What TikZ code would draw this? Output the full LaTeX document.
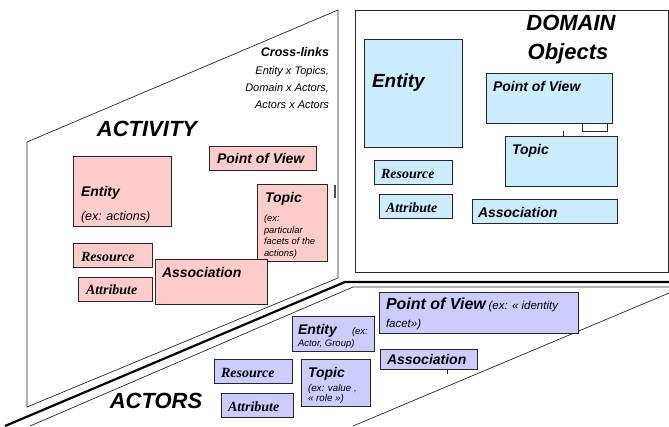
\documentclass[tikz,border=0pt]{standalone}
\usepackage{fontspec}
\setmainfont{Liberation Sans}
\newfontfamily\tmsfont{Liberation Serif}
\definecolor{pinkf}{HTML}{FFCCCC}
\definecolor{bluef}{HTML}{CCECFF}
\definecolor{lavf}{HTML}{CCCCFF}
\newcommand\fsz[1]{\fontsize{#1}{#1}\selectfont}
\tikzset{
  box/.style={draw=black!85, line width=0.7pt, inner sep=0pt, outer sep=0pt, anchor=north west},
  pbox/.style={box, fill=pinkf},
  bbox/.style={box, fill=bluef},
  lbox/.style={box, fill=lavf},
  lbl/.style={anchor=base west, inner sep=0pt, outer sep=0pt},
  rlbl/.style={anchor=base east, inner sep=0pt, outer sep=0pt},
  clbl/.style={anchor=base, inner sep=0pt, outer sep=0pt},
  bt/.style={font=\fsz{14}\bfseries\itshape},
  tt/.style={font=\fsz{14}\tmsfont\bfseries\itshape},
  plane/.style={draw=black!85, line width=0.7pt},
}
\begin{document}
\begin{tikzpicture}[x=1pt,y=-1pt]
\useasboundingbox (0,0) rectangle (669,426);
% planes
\draw[plane] (27,142) -- (338,10) -- (338,278) -- (27,407) -- cycle;
\draw[plane] (355,10) rectangle (668.6,272);
\draw[black, line width=2.2pt] (5,426) -- (345,282) -- (669,282);
\draw[plane] (30,426) -- (353,287) -- (669,287);
\draw[plane] (669,293) -- (353,426);
\draw[black!70, line width=1.2pt] (335,185) -- (335,198);

% ACTIVITY
\node[clbl, font=\fsz{22}\bfseries\itshape] (tact) at (147,136) {ACTIVITY};
\node[rlbl, font=\fsz{12.5}\bfseries\itshape] (tcl) at (329,56.5) {Cross-links};
\node[rlbl, font=\fsz{11}\itshape] (tcl1) at (329,74) {Entity x Topics,};
\node[rlbl, font=\fsz{11}\itshape] (tcl2) at (329,91) {Domain x Actors,};
\node[rlbl, font=\fsz{11}\itshape] (tcl3) at (329,108) {Actors x Actors};

\node[pbox, minimum width=98pt, minimum height=70pt] (aent) at (73,156) {};
\node[lbl, bt] (aentt) at (81,196) {Entity};
\node[lbl, font=\fsz{12.5}\itshape] (aentx) at (81,220) {(ex: actions)};
\node[pbox, minimum width=107pt, minimum height=24pt] (apov) at (209,146) {};
\node[lbl, bt] (apovt) at (217,163) {Point of View};
\node[pbox, minimum width=70pt, minimum height=77pt] (atop) at (257,184) {};
\node[lbl, bt] (atopt) at (265,202) {Topic};
\node[lbl, font=\fsz{9.4}\itshape] (atop1) at (264,221.5) {(ex:};
\node[lbl, font=\fsz{9.4}\itshape] (atop2) at (264,233) {particular};
\node[lbl, font=\fsz{9.4}\itshape] (atop3) at (264,244.5) {facets of the};
\node[lbl, font=\fsz{9.4}\itshape] (atop4) at (264,256) {actions)};
\node[pbox, minimum width=79pt, minimum height=24pt] (ares) at (73,243) {};
\node[lbl, tt] (arest) at (81,261) {Resource};
\node[pbox, minimum width=74pt, minimum height=24pt] (aatt) at (78,277) {};
\node[lbl, tt] (aattt) at (86,294) {Attribute};
\node[pbox, minimum width=112pt, minimum height=45pt] (aass) at (155,259) {};
\node[lbl, bt] (aasst) at (162,277) {Association};

% DOMAIN
\node[clbl, font=\fsz{22}\bfseries\itshape] (tdom) at (571,30) {DOMAIN};
\node[clbl, font=\fsz{22}\bfseries\itshape] (tobj) at (568,59) {Objects};
\node[bbox, minimum width=98pt, minimum height=108pt] (dent) at (364,39) {};
\node[lbl, font=\fsz{19}\bfseries\itshape] (dentt) at (372,87) {Entity};
\node[bbox, minimum width=126pt, minimum height=50pt] (dpov) at (486,73) {};
\node[lbl, bt] (dpovt) at (493,91) {Point of View};
\node[box, fill=white, minimum width=25pt, minimum height=8pt] (dsmall) at (582,123) {};
\node[bbox, minimum width=112pt, minimum height=50pt] (dtop) at (505,136) {};
\node[lbl, bt] (dtopt) at (512,154) {Topic};
\coordinate (dtick) at (563,131);
\draw[black!85, line width=0.7pt] (dtick) -- (dtick |- dtop.north);
\node[bbox, minimum width=78pt, minimum height=24pt] (dres) at (374,160) {};
\node[lbl, tt] (drest) at (381,178) {Resource};
\node[bbox, minimum width=73pt, minimum height=24pt] (datt) at (379,194) {};
\node[lbl, tt] (dattt) at (386,212) {Attribute};
\node[bbox, minimum width=145pt, minimum height=24pt] (dass) at (472,199) {};
\node[lbl, bt] (dasst) at (478,217) {Association};

% ACTORS
\node[clbl, font=\fsz{22}\bfseries\itshape] (tactors) at (156,408) {ACTORS};
\node[lbox, minimum width=199pt, minimum height=41pt] (cpov) at (379,292) {};
\node[lbl] (cpovt) at (386,309) {{\fsz{16}\bfseries\itshape Point of View} {\fsz{11.5}\itshape (ex: « identity}};
\node[lbl, font=\fsz{11.5}\itshape] (cpovt2) at (386,327) {facet»)};
\node[lbox, minimum width=82pt, minimum height=35pt] (cent) at (292,316) {};
\node[lbl, bt] (centt) at (298,334) {Entity};
\node[lbl, font=\fsz{9.5}\itshape] (centx) at (352,334) {(ex:};
\node[lbl, font=\fsz{9.5}\itshape] (centx2) at (298,346.5) {Actor, Group)};
\node[lbox, minimum width=97pt, minimum height=20pt] (cass) at (380,349) {};
\node[lbl, bt] (casst) at (387,364.5) {Association};
\coordinate (ctick) at (447,374);
\draw[black!85, line width=0.7pt] (ctick |- cass.south) -- (ctick);
\node[lbox, minimum width=78pt, minimum height=24pt] (cres) at (214,359) {};
\node[lbl, tt] (crest) at (221,377) {Resource};
\node[lbox, minimum width=69pt, minimum height=47pt] (ctop) at (301,359) {};
\node[lbl, bt] (ctopt) at (308,377) {Topic};
\node[lbl, font=\fsz{9.8}\itshape] (ctop1) at (308,391) {(ex: value ,};
\node[lbl, font=\fsz{9.8}\itshape] (ctop2) at (308,401) {« role »)};
\node[lbox, minimum width=72pt, minimum height=24pt] (catt) at (221,393) {};
\node[lbl, tt] (cattt) at (228,411) {Attribute};
\end{tikzpicture}
\end{document}
